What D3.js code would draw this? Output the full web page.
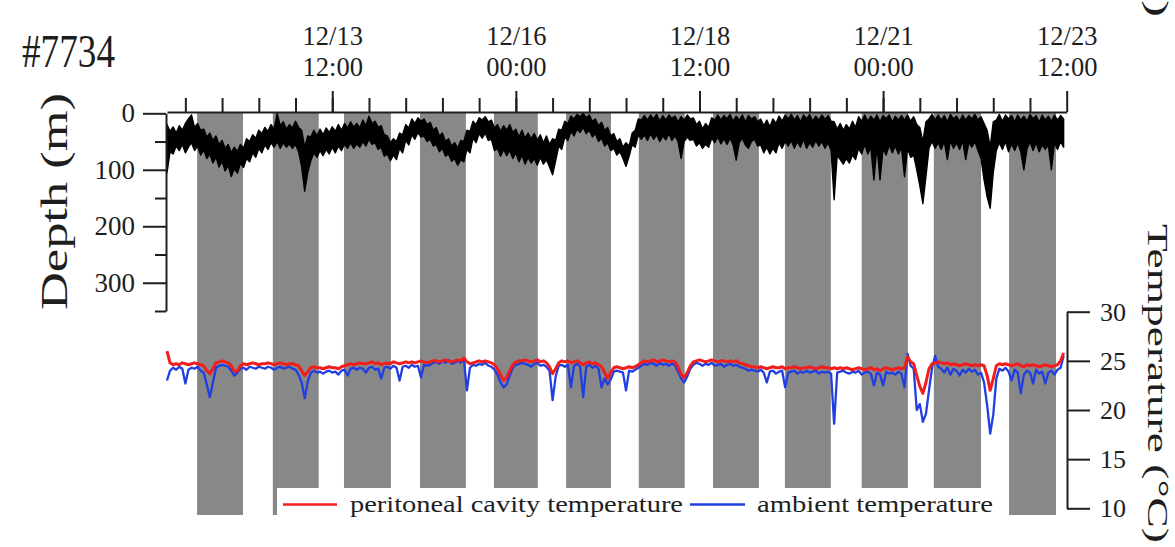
<!DOCTYPE html>
<html>
<head>
<meta charset="utf-8">
<script src="https://cdn.jsdelivr.net/npm/d3@7"></script>
<style>
  html, body { margin: 0; padding: 0; background: #fff; }
  svg { display: block; font-family: "Liberation Serif", "Times New Roman", serif; }
</style>
</head>
<body>
<svg id="chart" width="1175" height="547"></svg>
<script>
// ---- data -------------------------------------------------------------
const tagLabel = "#7734";
const seriesStart = "12/11 06:00";   // first hourly sample
const axisEnd = "12/23 12:00";
const dateTicks = ["12/13 12:00", "12/16 00:00", "12/18 12:00", "12/21 00:00", "12/23 12:00"];
const depthTicks = [0, 100, 200, 300];
const depthMinorTicks = [50, 150, 250, 350];
const tempTicks = [10, 15, 20, 25, 30];
const legendLabels = ["peritoneal cavity temperature", "ambient temperature"];

// night periods (shaded)
const nightStart = ["12/11 15:50", "12/12 16:35", "12/13 15:50", "12/14 16:40", "12/15 16:50", "12/16 16:25",
                    "12/17 16:10", "12/18 16:25", "12/19 15:55", "12/20 17:00", "12/21 16:35", "12/22 17:10"];
const nightEnd   = ["12/12 06:50", "12/13 07:35", "12/14 07:10", "12/15 07:40", "12/16 07:10", "12/17 07:05",
                    "12/18 07:10", "12/19 07:25", "12/20 06:55", "12/21 08:05", "12/22 08:00", "12/23 08:30"];

// shallowest depth recorded in each hour (m)
const depthShallow = [
  20, 32, 24, 35, 22, 30, 18, 10, 3, 25, 18, 30,
  28, 42, 35, 48, 40, 55, 48, 62, 55, 70, 60, 68,
  55, 62, 45, 50, 38, 44, 30, 36, 25, 32, 20, 28,
  0, 22, 15, 28, 20, 26, 14, 25, 30, 60, 40, 42,
  30, 40, 28, 38, 26, 34, 24, 32, 20, 30, 18, 26,
  15, 25, 18, 26, 12, 22, 5, 18, 14, 25, 22, 38,
  40, 52, 45, 50, 35, 38, 20, 26, 10, 18, 8, 14,
  10, 20, 16, 30, 25, 40, 35, 50, 45, 58, 52, 62,
  48, 50, 30, 32, 14, 20, 8, 12, 6, 15, 12, 26,
  20, 32, 22, 30, 20, 34, 28, 42, 30, 44, 35, 45,
  36, 48, 38, 52, 40, 55, 45, 48, 28, 30, 14, 18,
  5, 10, 2, 6, 0, 8, 3, 14, 10, 22, 16, 30,
  25, 40, 36, 50, 45, 60, 52, 58, 35, 30, 10, 12,
  4, 12, 3, 10, 2, 14, 4, 12, 3, 9, 5, 15,
  6, 12, 3, 10, 8, 20, 14, 28, 18, 25, 8, 12,
  3, 12, 4, 10, 2, 14, 5, 12, 3, 15, 4, 10,
  6, 15, 10, 22, 12, 24, 10, 18, 5, 14, 3, 10,
  2, 12, 4, 15, 3, 10, 2, 14, 5, 12, 3, 11,
  4, 14, 15, 28, 18, 30, 20, 28, 14, 25, 6, 14,
  3, 14, 5, 12, 3, 15, 4, 10, 3, 16, 5, 12,
  4, 12, 3, 14, 6, 20, 25, 50, 15, 10, 2, 12,
  3, 12, 4, 15, 2, 10, 5, 14, 3, 12, 4, 10,
  2, 12, 6, 18, 30, 60, 15, 12, 2, 14, 3, 10,
  4, 15, 3, 12, 5, 14, 2, 10, 4, 16, 3, 12,
  5, 14, 3, 12, 4, 10
];

// deepest depth recorded in each hour (m)
const depthDeep = [
  105, 68, 72, 58, 66, 55, 70, 60, 52, 66, 58, 74,
  65, 80, 72, 88, 78, 95, 85, 102, 92, 112, 98, 106,
  88, 96, 80, 86, 70, 78, 62, 70, 56, 64, 52, 60,
  50, 62, 52, 60, 54, 62, 55, 68, 95, 138, 105, 84,
  70, 78, 66, 75, 64, 72, 60, 70, 58, 66, 55, 62,
  52, 62, 54, 60, 50, 58, 46, 55, 52, 64, 60, 76,
  72, 84, 74, 82, 62, 70, 48, 56, 38, 46, 34, 42,
  40, 50, 46, 58, 55, 68, 62, 76, 72, 85, 80, 92,
  82, 86, 64, 70, 44, 52, 36, 44, 35, 48, 46, 66,
  62, 76, 64, 75, 66, 80, 70, 86, 74, 90, 78, 88,
  80, 92, 78, 90, 82, 95, 109, 84, 58, 64, 42, 48,
  32, 40, 28, 34, 25, 36, 30, 42, 36, 50, 44, 58,
  52, 66, 62, 74, 68, 80, 94, 76, 56, 60, 38, 46,
  38, 48, 36, 46, 38, 50, 40, 47, 36, 48, 40, 50,
  80, 50, 42, 48, 46, 58, 52, 62, 55, 60, 44, 52,
  42, 54, 45, 55, 44, 56, 83, 52, 44, 56, 62, 50,
  46, 58, 56, 70, 60, 72, 62, 70, 52, 62, 50, 58,
  48, 62, 50, 60, 46, 62, 52, 60, 48, 58, 50, 62,
  52, 66, 153, 75, 82, 90, 80, 88, 74, 82, 62, 72,
  55, 72, 60, 118, 58, 118, 62, 74, 56, 70, 58, 72,
  60, 112, 62, 78, 74, 100, 128, 160, 112, 62, 50, 62,
  52, 64, 50, 82, 48, 62, 52, 64, 48, 82, 52, 60,
  50, 66, 80, 118, 148, 168, 105, 66, 52, 64, 50, 68,
  54, 66, 52, 68, 100, 64, 50, 66, 52, 68, 56, 64,
  56, 100, 52, 64, 50, 60
];

// hourly peritoneal cavity temperature (°C)
const peritonealTemp = [
  26.0, 24.8, 24.6, 24.7, 24.6, 24.8, 24.7, 24.6, 24.7, 24.8, 24.7, 24.6,
  24.5, 24.0, 23.7, 24.2, 24.8, 24.9, 25.0, 24.9, 24.8, 24.5, 23.9, 24.0,
  24.5, 24.7, 24.6, 24.7, 24.8, 24.7, 24.6, 24.7, 24.7, 24.8, 24.7, 24.6,
  24.7, 24.8, 24.7, 24.6, 24.7, 24.7, 24.6, 24.5, 24.0, 23.5, 23.9, 24.3,
  24.4, 24.3, 24.3, 24.2, 24.3, 24.4, 24.3, 24.3, 24.2, 24.4, 24.5, 24.6,
  24.7, 24.6, 24.7, 24.8, 24.7, 24.7, 24.8, 24.9, 24.7, 24.8, 24.6, 24.7,
  24.8, 24.7, 24.9, 24.8, 24.7, 24.8, 24.9, 24.8, 24.9, 24.8, 24.9, 25.0,
  24.9, 24.8, 24.9, 25.0, 25.0, 24.9, 25.0, 25.1, 25.0, 24.9, 25.0, 25.1,
  25.0, 25.3, 24.9, 24.7, 24.8, 24.9, 25.0, 24.9, 25.0, 24.9, 24.8, 24.6,
  24.2, 23.6, 23.0, 23.3, 24.0, 24.6, 24.9, 25.0, 25.0, 25.1, 25.0, 24.9,
  25.0, 25.1, 24.9, 25.0, 24.8, 24.4, 23.7, 24.2, 24.8, 25.0, 24.9, 25.0,
  24.8, 24.9, 25.0, 24.8, 24.6, 24.8, 24.9, 24.7, 24.8, 24.6, 24.4, 23.8,
  23.2, 23.8, 24.3, 24.4, 24.3, 24.2, 24.3, 24.4, 24.3, 24.4, 24.6, 24.8,
  25.0, 24.9, 25.0, 25.1, 24.9, 25.0, 25.1, 25.0, 24.9, 25.0, 24.9, 24.4,
  23.6, 23.3, 23.8, 24.5, 24.9, 25.0, 25.1, 25.0, 24.9, 25.0, 25.1, 25.0,
  24.9, 25.0, 25.0, 24.9, 25.0, 24.9, 25.0, 24.8, 24.7, 24.6, 24.5, 24.4,
  24.4, 24.3, 24.4, 24.3, 24.2, 24.3, 24.4, 24.3, 24.3, 24.4, 24.2, 24.3,
  24.3, 24.4, 24.3, 24.2, 24.3, 24.3, 24.4, 24.3, 24.2, 24.3, 24.4, 24.3,
  24.3, 24.2, 24.3, 24.2, 24.3, 24.2, 24.3, 24.2, 24.1, 24.2, 24.3, 24.2,
  24.1, 24.2, 24.3, 24.1, 24.2, 24.0, 24.2, 24.3, 24.2, 24.1, 24.2, 24.3,
  24.2, 24.3, 25.4, 24.9, 24.7, 23.5, 22.4, 21.7, 22.8, 24.2, 24.7, 24.8,
  24.9, 24.8, 24.7, 24.8, 24.6, 24.7, 24.6, 24.5, 24.6, 24.7, 24.6, 24.5,
  24.6, 24.5, 24.6, 24.5, 23.5, 22.0, 23.2, 24.5, 24.7, 24.6, 24.7, 24.6,
  24.5, 24.6, 24.7, 24.5, 24.4, 24.6, 24.5, 24.6, 24.5, 24.4, 24.5, 24.6,
  24.5, 24.4, 24.5, 24.6, 25.0, 25.8
];

// hourly ambient water temperature (°C)
const ambientTemp = [
  23.0, 24.0, 24.3, 24.1, 24.4, 24.2, 22.7, 24.1, 24.3, 24.2, 24.4, 24.0,
  23.8, 22.6, 21.3, 22.8, 24.3, 24.5, 24.6, 24.5, 24.4, 24.0, 23.5, 23.8,
  24.2, 24.3, 24.1, 24.4, 24.3, 24.2, 24.4, 24.3, 24.2, 24.4, 24.3, 24.1,
  24.3, 24.4, 24.2, 24.3, 24.4, 24.2, 24.1, 23.6, 22.8, 21.2, 22.9, 23.8,
  24.0, 23.8, 23.9, 23.7, 23.9, 24.0, 23.8, 23.9, 23.6, 24.0, 24.1, 23.5,
  24.2, 24.3, 24.1, 24.3, 24.2, 23.8, 24.3, 24.4, 24.1, 24.2, 23.2, 24.3,
  24.4, 24.2, 24.5, 24.3, 23.0, 24.4, 24.5, 24.3, 24.6, 24.4, 24.5, 23.3,
  24.6, 24.5, 24.6, 24.8, 24.9, 24.7, 25.0, 24.8, 25.1, 24.7, 24.8, 25.0,
  24.8, 25.2, 22.0, 24.3, 24.6, 24.5, 24.7, 24.6, 24.8, 24.5, 24.4, 24.1,
  23.6, 22.8, 22.3, 22.6, 23.5, 24.3, 24.6, 24.7, 24.8, 24.7, 24.6, 24.4,
  24.7, 24.8, 24.5, 24.6, 24.4, 24.0, 21.0, 23.4, 24.5, 24.6, 24.4, 24.6,
  22.3, 24.5, 24.7, 24.4, 21.3, 24.4, 24.6, 24.3, 24.5, 24.2, 22.3, 23.2,
  22.6, 23.1, 23.9, 24.0, 23.9, 23.8, 22.0, 24.0, 23.9, 24.1, 24.3, 24.5,
  24.7, 24.6, 24.8, 24.7, 24.5, 24.8, 24.6, 24.7, 24.5, 24.7, 24.6, 23.9,
  23.2, 22.8, 23.4, 24.2, 24.6, 24.8, 24.7, 24.5, 24.7, 24.6, 24.8, 24.5,
  24.6, 24.7, 24.4, 24.6, 24.7, 24.5, 24.6, 24.4, 24.3, 24.2, 24.0, 24.1,
  24.0, 23.9, 24.1, 23.8, 22.8, 23.9, 24.0, 23.7, 23.9, 24.0, 22.3, 23.8,
  23.9, 24.0, 23.7, 23.9, 23.8, 24.0, 23.8, 23.9, 24.0, 23.7, 23.9, 23.8,
  23.9, 23.7, 18.6, 23.8, 23.9, 24.0, 23.8, 23.7, 23.9, 23.8, 24.0, 23.6,
  23.8, 23.9, 23.7, 22.5, 23.8, 23.6, 22.5, 23.9, 23.7, 23.8, 23.6, 23.9,
  23.7, 22.3, 25.7, 24.5, 24.2, 20.0, 20.6, 18.8, 19.6, 22.0, 24.3, 25.5,
  24.4, 24.2, 23.8, 24.3, 23.6, 24.2, 24.0, 23.5, 24.1, 23.8, 24.2, 23.9,
  24.1, 23.6, 23.8, 22.8, 20.5, 17.6, 19.5, 23.2, 24.2, 24.0, 24.3, 23.9,
  23.0, 24.1, 23.8, 21.7, 23.6, 24.0, 23.8, 22.7, 24.1, 23.7, 23.9, 22.7,
  23.8, 24.0, 23.6, 24.1, 24.3, 25.5
];

// ---- drawing ----------------------------------------------------------
const parse = d3.timeParse("%m/%d %H:%M");
const t0 = parse(seriesStart);
const times = depthShallow.map((_, i) => d3.timeHour.offset(t0, i));

const svg = d3.select("#chart");
const ink = "#1e1e1e";

const x = d3.scaleTime().domain([t0, parse(axisEnd)]).range([167, 1066.7]);
const yDepth = d3.scaleLinear().domain([0, 350]).range([113.3, 311]);
const yTemp = d3.scaleLinear().domain([10, 30]).range([508.3, 311.7]);

// night shading
svg.append("g").selectAll("rect")
  .data(nightStart.map((s, i) => [parse(s), parse(nightEnd[i])]))
  .join("rect")
  .attr("x", d => x(d[0]))
  .attr("width", d => x(d[1]) - x(d[0]))
  .attr("y", 113)
  .attr("height", 515 - 113)
  .attr("fill", "#888888");

// depth trace: band between the shallowest and deepest reading of each hour
svg.append("path")
  .datum(depthShallow)
  .attr("fill", "#000")
  .attr("stroke", "#000")
  .attr("stroke-width", 1.4)
  .attr("stroke-linejoin", "round")
  .attr("d", d3.area()
    .x((d, i) => x(times[i]))
    .y0(d => yDepth(d))
    .y1((d, i) => yDepth(depthDeep[i])));

// temperature traces
const tempLine = d3.line().x((d, i) => x(times[i])).y(d => yTemp(d));
svg.append("path")
  .datum(ambientTemp)
  .attr("fill", "none")
  .attr("stroke", "#1f3fe0")
  .attr("stroke-width", 2.3)
  .attr("stroke-linejoin", "round")
  .attr("d", tempLine);
svg.append("path")
  .datum(peritonealTemp)
  .attr("fill", "none")
  .attr("stroke", "#f21d1d")
  .attr("stroke-width", 3)
  .attr("stroke-linejoin", "round")
  .attr("d", tempLine);

function styleAxis(g) {
  g.selectAll("path, line").attr("stroke", ink).attr("stroke-width", 2);
  g.selectAll("text").attr("fill", ink).attr("font-family", null);
  g.attr("font-family", null);
}

// time axis along the top
const minorTimes = d3.timeHour.every(12).range(t0, parse(axisEnd));
svg.append("g")
  .attr("transform", "translate(0,112)")
  .call(d3.axisTop(x).tickValues(minorTimes).tickSize(14).tickSizeOuter(0).tickFormat(""))
  .call(styleAxis);

const major = svg.append("g")
  .attr("transform", "translate(0,112)")
  .call(d3.axisTop(x).tickValues(dateTicks.map(parse)).tickSize(21).tickSizeOuter(0).tickFormat(""))
  .call(styleAxis);
major.select(".domain").remove();
major.selectAll(".tick text").remove();
major.selectAll(".tick").each(function (d, i) {
  const parts = dateTicks[i].split(" ");
  const t = d3.select(this).append("text")
    .attr("text-anchor", "middle")
    .attr("font-size", 26.5)
    .attr("fill", ink);
  t.append("tspan").attr("x", 0).attr("y", 44.5 - 112).text(parts[0]);
  t.append("tspan").attr("x", 0).attr("y", 76 - 112).text(parts[1]);
});

// depth axis
svg.append("g")
  .attr("transform", "translate(166,0)")
  .call(d3.axisLeft(yDepth).tickValues(depthMinorTicks).tickSize(11).tickSizeOuter(0).tickFormat(""))
  .call(styleAxis);
svg.append("g")
  .attr("transform", "translate(166,0)")
  .call(d3.axisLeft(yDepth).tickValues(depthTicks).tickSize(23).tickSizeOuter(0).tickPadding(8))
  .call(styleAxis)
  .call(g => g.select(".domain").remove())
  .selectAll("text").attr("font-size", 27);

// temperature axis
svg.append("g")
  .attr("transform", "translate(1067,0)")
  .call(d3.axisRight(yTemp).tickValues(tempTicks).tickSize(23).tickSizeOuter(0).tickPadding(10))
  .call(styleAxis)
  .selectAll("text").attr("font-size", 26);

// axis titles
svg.append("text")
  .attr("transform", "translate(66.5,201.5) rotate(-90)")
  .attr("text-anchor", "middle")
  .attr("font-size", 38)
  .attr("fill", ink)
  .attr("textLength", 217)
  .attr("lengthAdjust", "spacingAndGlyphs")
  .text("Depth (m)");

svg.append("text")
  .attr("transform", "translate(1148,224) rotate(90)")
  .attr("font-size", 30)
  .attr("fill", ink)
  .attr("textLength", 319)
  .attr("lengthAdjust", "spacingAndGlyphs")
  .text("Temperature (°C)");

// closing bracket of the neighbouring panel's title
svg.append("text")
  .attr("transform", "translate(1148,0) rotate(90)")
  .attr("font-size", 30)
  .attr("fill", ink)
  .attr("textLength", 17)
  .attr("lengthAdjust", "spacingAndGlyphs")
  .text(")");

// tag label
svg.append("text")
  .attr("x", 22)
  .attr("y", 67)
  .attr("font-size", 47)
  .attr("fill", ink)
  .attr("textLength", 93)
  .attr("lengthAdjust", "spacingAndGlyphs")
  .text(tagLabel);

// legend
const legend = svg.append("g");
legend.append("rect")
  .attr("x", 277).attr("y", 488).attr("width", 723).attr("height", 50)
  .attr("fill", "#fff");
const legendItems = [
  { label: legendLabels[0], color: "#f21d1d", x0: 283, x1: 337, tx: 350, len: 333 },
  { label: legendLabels[1], color: "#1f3fe0", x0: 690, x1: 745, tx: 757, len: 236 }
];
legendItems.forEach(it => {
  legend.append("line")
    .attr("x1", it.x0).attr("x2", it.x1).attr("y1", 504.5).attr("y2", 504.5)
    .attr("stroke", it.color).attr("stroke-width", 2.4);
  legend.append("text")
    .attr("x", it.tx).attr("y", 512)
    .attr("font-size", 24)
    .attr("fill", ink)
    .attr("textLength", it.len)
    .attr("lengthAdjust", "spacingAndGlyphs")
    .text(it.label);
});
</script>
</body>
</html>
